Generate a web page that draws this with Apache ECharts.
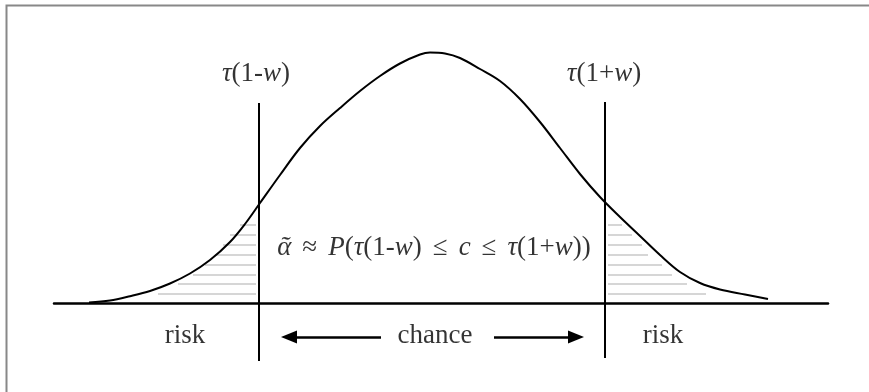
<!DOCTYPE html>
<html>
<head>
<meta charset="utf-8">
<title>risk / chance</title>
<script src="https://cdn.jsdelivr.net/npm/echarts@6/dist/echarts.min.js"></script>
<style>
	html,body{margin:0;padding:0;background:#fff;}
	#chart{width:869px;height:392px;}
</style>
</head>
<body>
<div id="chart"></div>
<script>
// diagram units: x along the c axis, y = height of the density above the baseline
var curveX = [89, 110, 130, 150, 170, 190, 210, 230, 245, 260, 280, 300, 320, 340, 360, 380, 400, 420, 430, 445, 460, 480, 500, 520, 540, 560, 580, 600, 620, 640, 660, 680, 700, 720, 745, 768];
var curveY = [0.5, 2.5, 6.8, 12, 19.5, 29.5, 43, 61, 79, 100, 128, 155, 177, 195, 212, 227, 239.5, 248.5, 250.5, 249.5, 245, 234, 222, 204, 181, 155, 129, 106, 86, 67, 48, 31, 20, 13.5, 8.5, 4];

// the two bounds tau(1-w) and tau(1+w)
var boundX = [259, 605];
var boundTop = [200, 201];
var boundBottom = [-58, -55];

// hatching in the two tails
var hatchY = [78, 68, 58, 48, 38, 28, 19, 9];
var hatchLeftFrom = [240, 230, 223, 215, 205, 193, 178, 158];
var hatchLeftTo = [256, 256, 256, 256, 256, 256, 256, 256];
var hatchRightFrom = [608, 608, 608, 608, 608, 608, 608, 608];
var hatchRightTo = [622, 632, 642, 648, 662, 672, 687, 706];

// "chance" arrows
var arrowY = -34;
var arrowLeft = [381, 289];
var arrowRight = [494, 576];

// text labels [x, y, text]
var labels = [
	[256, 229, '{i|τ}(1-{i|w})'],
	[604, 229, '{i|τ}(1+{i|w})'],
	[434, 55, '{i|ᾶ}{o|≈}{i|P}({i|τ}(1-{i|w}){o|≤}{i|c}{o|≤}{i|τ}(1+{i|w}))'],
	[185, -33, 'risk'],
	[435, -33, 'chance'],
	[663, -33, 'risk']
];

var font = "'Liberation Serif', 'Times New Roman', serif";

var curve = [];
for (var i = 0; i < curveX.length; i++) {
	curve.push([curveX[i], curveY[i]]);
}

var lineMarks = [];
for (var i = 0; i < boundX.length; i++) {
	lineMarks.push([{coord:[boundX[i], boundBottom[i]]}, {coord:[boundX[i], boundTop[i]]}]);
}

var hatchMarks = [];
for (var i = 0; i < hatchY.length; i++) {
	hatchMarks.push([{coord:[hatchLeftFrom[i], hatchY[i]]}, {coord:[hatchLeftTo[i], hatchY[i]]}]);
	hatchMarks.push([{coord:[hatchRightFrom[i], hatchY[i]]}, {coord:[hatchRightTo[i], hatchY[i]]}]);
}

var arrowMarks = [
	[{coord:[arrowLeft[0], arrowY]}, {coord:[arrowLeft[1], arrowY]}],
	[{coord:[arrowRight[0], arrowY]}, {coord:[arrowRight[1], arrowY]}]
];

var labelData = labels.map(function(d){
	return {value:[d[0], d[1]], text:d[2]};
});

var myChart = echarts.init(document.getElementById('chart'));
var option = {
	backgroundColor:'#fff',
	animation:false,
	graphic:[
		{
			type:'rect',
			shape:{x:6.5, y:5.5, width:1000, height:1000},
			style:{fill:null, stroke:'#888', lineWidth:2},
			silent:true
		}
	],
	grid:{
		left:54,
		right:41,
		top:0,
		bottom:0
	},
	xAxis:{
		type:'value',
		min:54,
		max:828,
		axisLine:{show:true, onZero:true, lineStyle:{color:'#000', width:2.5}},
		axisTick:{show:false},
		axisLabel:{show:false},
		splitLine:{show:false}
	},
	yAxis:{
		type:'value',
		min:-89,
		max:303,
		show:false,
		splitLine:{show:false}
	},
	series:[
		{
			type:'line',
			data:curve,
			smooth:0.35,
			symbol:'none',
			lineStyle:{color:'#000', width:2},
			z:5,
			markLine:{
				silent:true,
				symbol:['none','none'],
				label:{show:false},
				lineStyle:{color:'#c8c8c8', width:1.5, type:'solid'},
				data:hatchMarks,
				z:1
			}
		},
		{
			type:'line',
			data:[],
			markLine:{
				silent:true,
				symbol:['none','none'],
				label:{show:false},
				lineStyle:{color:'#000', width:2, type:'solid'},
				data:lineMarks
			}
		},
		{
			type:'line',
			data:[],
			markLine:{
				silent:true,
				symbol:['none','triangle'],
				symbolSize:[13,16],
				label:{show:false},
				lineStyle:{color:'#000', width:2.5, type:'solid'},
				itemStyle:{color:'#000'},
				data:arrowMarks
			}
		},
		{
			type:'scatter',
			symbolSize:0,
			data:labelData,
			label:{
				show:true,
				position:'inside',
				color:'#000',
				fontFamily:font,
				fontSize:27,
				formatter:function(p){ return p.data.text; },
				rich:{
					i:{fontStyle:'italic', fontFamily:font, fontSize:27, color:'#000'},
					o:{fontFamily:font, fontSize:27, color:'#000', padding:[0, 11, 0, 11]}
				}
			},
			z:10
		}
	]
};
myChart.setOption(option);
</script>
</body>
</html>
